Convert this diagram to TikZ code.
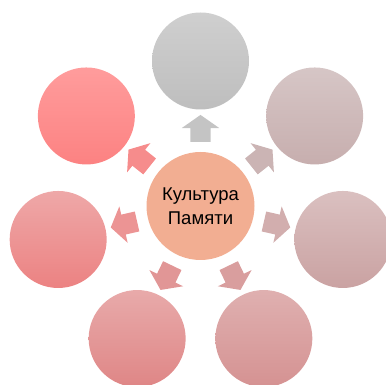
\documentclass[tikz,border=0pt]{standalone}
\usepackage{fontspec}
\setmainfont{Liberation Sans}
\usetikzlibrary{shapes.arrows,calc}
\definecolor{cT1}{HTML}{CFCFCF}\definecolor{cB1}{HTML}{BEBEBE}\definecolor{cA1}{HTML}{C4C4C4}
\definecolor{cT2}{HTML}{D6C6C6}\definecolor{cB2}{HTML}{C7AEAE}\definecolor{cA2}{HTML}{CBB4B4}
\definecolor{cT3}{HTML}{DAC0C0}\definecolor{cB3}{HTML}{CAA2A2}\definecolor{cA3}{HTML}{D2AEAE}
\definecolor{cT4}{HTML}{DFB0B0}\definecolor{cB4}{HTML}{D59292}\definecolor{cA4}{HTML}{D99E9E}
\definecolor{cT5}{HTML}{E8AAAA}\definecolor{cB5}{HTML}{DF8686}\definecolor{cA5}{HTML}{E19696}
\definecolor{cT6}{HTML}{EEA8A8}\definecolor{cB6}{HTML}{EC8282}\definecolor{cA6}{HTML}{EC9494}
\definecolor{cT7}{HTML}{FF9C9C}\definecolor{cB7}{HTML}{FC8282}\definecolor{cA7}{HTML}{F68C8C}
\definecolor{cCenter}{HTML}{F2AE92}
\tikzset{
  outer/.style={circle, minimum size=97pt, inner sep=0pt, draw=none},
  hub/.style={circle, minimum size=108pt, inner sep=0pt, fill=cCenter, align=center,
    font=\fontsize{18.5pt}{23.6pt}\selectfont},
  blockarrow/.style={single arrow, draw=none, inner xsep=0pt, inner ysep=10pt,
    minimum height=27pt, single arrow head extend=8.5pt, single arrow tip angle=110}
}
\begin{document}
\begin{tikzpicture}[x=1pt,y=1pt]
\useasboundingbox (0,0) rectangle (386,385);
\coordinate (C) at (200.5,178);
\foreach \k in {1,...,7}{
  \pgfmathsetmacro{\ang}{90-51.4286*(\k-1)}
  \node[outer, top color=cT\k, bottom color=cB\k] (o\k) at ($(C)+(\ang:146)$) {};
  \node[blockarrow, fill=cA\k, rotate=\ang] (a\k) at ($(C)+(\ang:75)$) {};
}
\node[hub] (center) at (200.5,179) {Культура\\Памяти};
\end{tikzpicture}
\end{document}
